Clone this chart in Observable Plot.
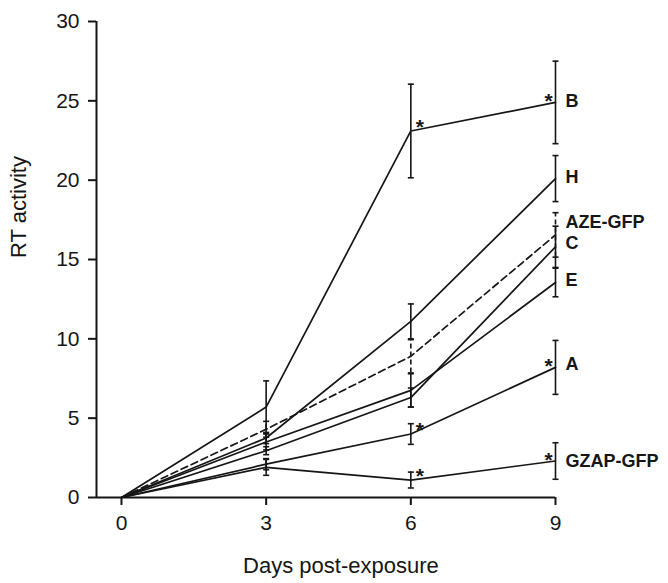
<!DOCTYPE html>
<html><head><meta charset="utf-8">
<script src="https://cdn.jsdelivr.net/npm/d3@7"></script>
<script src="https://cdn.jsdelivr.net/npm/@observablehq/plot@0.6"></script>
<style>html,body{margin:0;padding:0;background:#fff}</style>
</head><body><div id="chart"></div>
<script>
// ---- data ----
const days = [0, 3, 6, 9];
const seriesNames = ["B", "H", "AZE-GFP", "C", "E", "A", "GZAP-GFP"];
const meanB    = [0, 5.7, 23.1, 24.9];
const meanH    = [0, 3.75, 11.1, 20.1];
const meanAZE  = [0, 4.3, 8.9, 16.55];
const meanC    = [0, 2.95, 6.3, 15.8];
const meanE    = [0, 3.5, 6.75, 13.55];
const meanA    = [0, 2.1, 4.0, 8.2];
const meanGZAP = [0, 1.9, 1.1, 2.3];
const errB    = [0, 1.65, 2.95, 2.6];
const errH    = [0, 0.35, 1.1, 1.45];
const errAZE  = [0, 0.5, 1.05, 1.4];
const errC    = [0, 0.25, 0.6, 1.3];
const errE    = [0, 0.5, 1.05, 0.9];
const errA    = [0, 0.35, 0.65, 1.7];
const errGZAP = [0, 0.5, 0.5, 1.15];
const dashedSeries = ["AZE-GFP"];
const significant = [["B", 6], ["B", 9], ["A", 6], ["A", 9], ["GZAP-GFP", 6], ["GZAP-GFP", 9]];
const yTicks = [0, 5, 10, 15, 20, 25, 30];
const xTicks = [0, 3, 6, 9];
const xLabel = "Days post-exposure";
const yLabel = "RT activity";

// ---- build table ----
const means = {"B": meanB, "H": meanH, "AZE-GFP": meanAZE, "C": meanC, "E": meanE, "A": meanA, "GZAP-GFP": meanGZAP};
const errs  = {"B": errB, "H": errH, "AZE-GFP": errAZE, "C": errC, "E": errE, "A": errA, "GZAP-GFP": errGZAP};
const rows = [];
for (const s of seriesNames) days.forEach((d, i) => rows.push({
  series: s, day: d, value: means[s][i], lo: means[s][i] - errs[s][i], hi: means[s][i] + errs[s][i],
  err: errs[s][i], dashed: dashedSeries.includes(s)
}));
const errRows = rows.filter(r => r.err > 0);
const starRows = significant.map(([s, d]) => rows.find(r => r.series === s && r.day === d));
const lastRows = seriesNames.map(s => rows.find(r => r.series === s && r.day === 9));

// ---- styles ----
const ink = "#161616";
const labelDy = {"B": -1, "H": -1, "AZE-GFP": -13, "C": -4, "E": -2, "A": -3, "GZAP-GFP": 0};
const capSymbol = {draw(ctx, size) { const r = Math.sqrt(size / Math.PI); ctx.moveTo(-r, 0); ctx.lineTo(r, 0); }};
const xMin = -0.518;

const chart = Plot.plot({
  width: 668, height: 583,
  marginLeft: 96, marginRight: 113, marginTop: 21, marginBottom: 86,
  x: {domain: [xMin, 9]},
  y: {domain: [0, 30]},
  style: {fontFamily: "'Liberation Sans', Arial, Helvetica, sans-serif", fontSize: "21px", color: ink, background: "#fff", overflow: "visible"},
  marks: [
    Plot.axisY({ticks: yTicks, tickSize: 8, tickPadding: 9, strokeWidth: 2, label: null, fontSize: 21, stroke: ink}),
    Plot.axisX({ticks: xTicks, tickSize: 8, tickPadding: 10, strokeWidth: 2, label: null, fontSize: 21, stroke: ink}),
    Plot.ruleX([xMin], {stroke: ink, strokeWidth: 2}),
    Plot.ruleY([0], {stroke: ink, strokeWidth: 2}),
    // error bars
    Plot.ruleX(errRows.filter(r => !r.dashed), {x: "day", y1: "lo", y2: "hi", stroke: ink, strokeWidth: 1.6}),
    Plot.ruleX(errRows.filter(r => r.dashed), {x: "day", y1: "lo", y2: "hi", stroke: ink, strokeWidth: 1.6, strokeDasharray: "5,3"}),
    Plot.dot(errRows, {x: "day", y: "lo", symbol: capSymbol, r: 3, stroke: ink, strokeWidth: 1.6, fill: "none"}),
    Plot.dot(errRows, {x: "day", y: "hi", symbol: capSymbol, r: 3, stroke: ink, strokeWidth: 1.6, fill: "none"}),
    // lines
    Plot.line(rows.filter(r => !r.dashed), {x: "day", y: "value", z: "series", stroke: ink, strokeWidth: 1.7}),
    Plot.line(rows.filter(r => r.dashed), {x: "day", y: "value", z: "series", stroke: ink, strokeWidth: 1.7, strokeDasharray: "7,4"}),
    // significance asterisks
    Plot.text(starRows.filter(r => r.day === 6), {x: "day", y: "value", text: () => "*", dx: 9, dy: -4, fontSize: 21, fontWeight: "bold", fill: ink}),
    Plot.text(starRows.filter(r => r.day === 9), {x: "day", y: "value", text: () => "*", dx: -7, dy: -1, fontSize: 21, fontWeight: "bold", fill: ink}),
    // series labels
    ...lastRows.map(r => Plot.text([r], {x: "day", y: "value", text: "series", textAnchor: "start", dx: 10, dy: labelDy[r.series], fontSize: 18, fontWeight: "bold", fill: ink})),
    // axis titles
    Plot.text([xLabel], {x: 4.55, frameAnchor: "bottom", lineAnchor: "bottom", dy: 75, fontSize: 22, fill: ink}),
    Plot.text([yLabel], {frameAnchor: "left", y: 15.1, rotate: -90, dx: -78, fontSize: 22, fill: ink})
  ]
});
document.getElementById("chart").appendChild(chart);
</script>
</body></html>
